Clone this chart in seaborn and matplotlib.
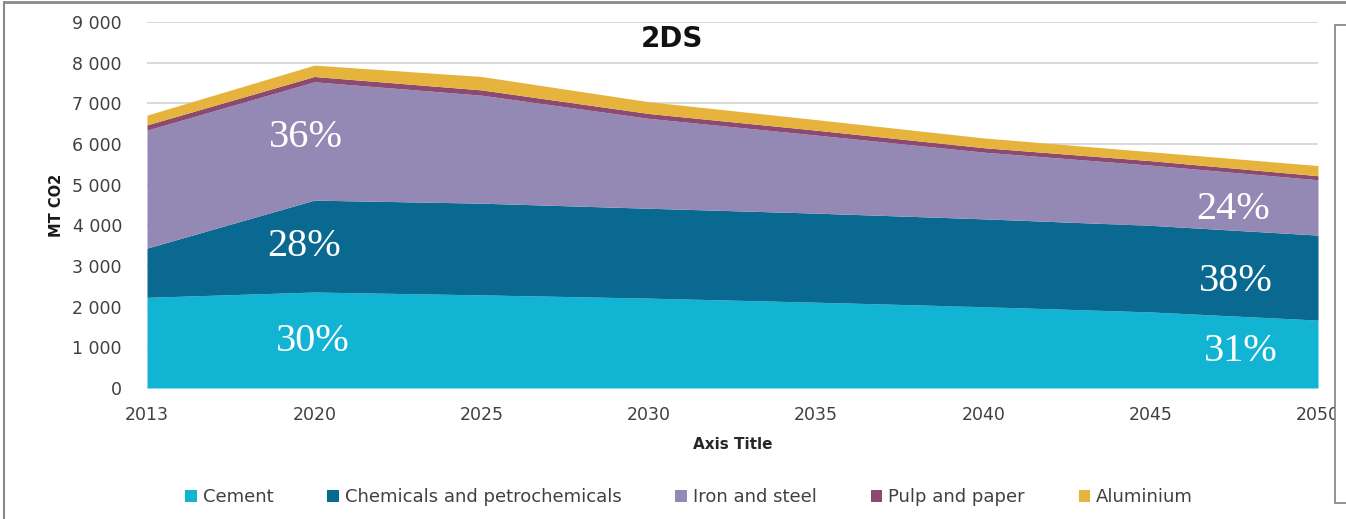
import matplotlib
matplotlib.use("Agg")
import matplotlib.pyplot as plt
import seaborn as sns
import numpy as np
from matplotlib.patches import Patch, Rectangle
from matplotlib.lines import Line2D
from matplotlib.ticker import FuncFormatter

years = ["2013", "2020", "2025", "2030", "2035", "2040", "2045", "2050"]
series_names = ["Cement", "Chemicals and petrochemicals", "Iron and steel", "Pulp and paper", "Aluminium"]
cement = [2230, 2360, 2290, 2210, 2110, 2000, 1870, 1670]
chemicals = [1210, 2260, 2255, 2210, 2190, 2160, 2130, 2090]
iron_steel = [2900, 2910, 2655, 2210, 1920, 1640, 1480, 1360]
pulp_paper = [130, 130, 130, 120, 120, 110, 110, 100]
aluminium = [240, 280, 330, 290, 260, 240, 220, 250]
colors = ["#12B4D4", "#0A6991", "#9488B5", "#8C4A70", "#E6B43C"]

# percentage annotations: (label, x position in category units, y value)
pct_labels = ["36%", "28%", "30%", "24%", "38%", "31%"]
pct_x = [0.95, 0.94, 0.99, 6.49, 6.51, 6.54]
pct_y = [6150, 3480, 1150, 4400, 2630, 900]

sns.set_theme(style="white")
plt.rcParams["font.family"] = ["DejaVu Sans"]

fig = plt.figure(figsize=(13.46, 5.19), dpi=100)
ax = fig.add_axes([147 / 1346, 1 - 388 / 519, (1318 - 147) / 1346, (388 - 22) / 519])

x = np.arange(len(years))
ax.stackplot(x, cement, chemicals, iron_steel, pulp_paper, aluminium,
             colors=colors, linewidth=0, zorder=2)

ax.set_xlim(0, len(years) - 1)
ax.set_ylim(0, 9000)
ax.set_yticks(np.arange(0, 9001, 1000))
ax.yaxis.set_major_formatter(FuncFormatter(lambda v, p: f"{int(v):,}".replace(",", " ")))
ax.set_xticks(x)
ax.set_xticklabels(years)
ax.grid(axis="y", color="#D3D3D3", linewidth=1.2, zorder=0)
ax.set_axisbelow(True)
for s in ax.spines.values():
    s.set_visible(False)
ax.tick_params(axis="both", length=0, labelsize=12.5, colors="#404040")
ax.tick_params(axis="x", pad=13)
ax.tick_params(axis="y", pad=18)

ax.set_xlabel("Axis Title", fontsize=11, fontweight="bold", color="#262626", labelpad=9)
ax.set_ylabel("MT CO2", fontsize=10.5, fontweight="bold", color="#1a1a1a", labelpad=6)

fig.text(672 / 1346, 1 - 39 / 519, "2DS", ha="center", va="center",
         fontsize=20, fontweight="bold", color="#111111")

for lab, px, py in zip(pct_labels, pct_x, pct_y):
    ax.text(px, py, lab, ha="center", va="center", fontsize=29,
            family="Liberation Serif", color="white", zorder=5)

handles = [Patch(facecolor=c, edgecolor="none") for c in colors]
leg = fig.legend(handles, series_names, loc="center", bbox_to_anchor=(689 / 1346, 1 - 497 / 519),
                 ncol=5, frameon=False, fontsize=13, handlelength=0.65, handleheight=0.65,
                 handletextpad=0.3, columnspacing=3.0, labelcolor="#404040")

# right-hand box that clips the last tick label
fig.add_artist(Rectangle((1335 / 1346, 1 - 503 / 519), 0.05, (503 - 25) / 519,
                         transform=fig.transFigure, facecolor="white", edgecolor="#808080",
                         linewidth=1.2, zorder=10))
# outer frame lines
fig.add_artist(Line2D([4 / 1346, 4 / 1346], [0, 1 - 2 / 519], transform=fig.transFigure,
                      color="#8a8a8a", linewidth=1.5))
fig.add_artist(Line2D([4 / 1346, 1], [1 - 2 / 519, 1 - 2 / 519], transform=fig.transFigure,
                      color="#8a8a8a", linewidth=2))

fig.savefig("out.png", dpi=100)
